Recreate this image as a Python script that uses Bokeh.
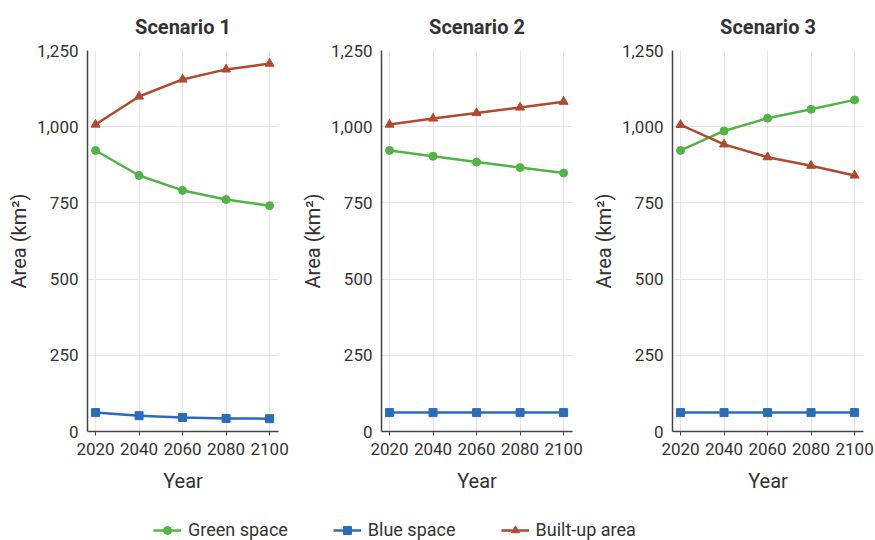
from bokeh.plotting import figure
from bokeh.layouts import row, column
from bokeh.models import FixedTicker, NumeralTickFormatter, Range1d, Legend, LegendItem
from bokeh.embed import file_html
from bokeh.resources import INLINE

years = [2020, 2040, 2060, 2080, 2100]
scenarios = ["Scenario 1", "Scenario 2", "Scenario 3"]
green = [
    [922, 840, 791, 761, 741],
    [922, 903, 884, 866, 848],
    [922, 986, 1028, 1057, 1088],
]
blue = [
    [62, 52, 46, 43, 42],
    [62, 62, 62, 62, 62],
    [62, 62, 62, 62, 62],
]
built = [
    [1007, 1099, 1155, 1188, 1207],
    [1007, 1027, 1045, 1063, 1082],
    [1006, 942, 900, 872, 840],
]
y_ticks = [0, 250, 500, 750, 1000, 1250]
series_names = ["Green space", "Blue space", "Built-up area"]

C_GREEN = "#52b447"
C_BLUE = "#2b6cb8"
C_RED = "#b04a2e"
TXT = "#333333"
FONT = "Roboto"

left_borders = [87, 87, 87]
right_borders = [16, 13, 12]
figs = []
for i in range(3):
    p = figure(frame_width=191, frame_height=381, output_backend="svg", toolbar_location=None,
               x_range=Range1d(2016.3, 2104.1), y_range=Range1d(0, 1250),
               min_border_left=left_borders[i], min_border_right=right_borders[i],
               min_border_top=0, min_border_bottom=70,
               title=scenarios[i])
    p.title.align = "center"
    p.title.text_font = FONT
    p.title.text_font_size = "20px"
    p.title.text_font_style = "bold"
    p.title.text_color = TXT
    p.title.offset = 0
    p.title.standoff = 24
    p.outline_line_color = None
    p.background_fill_color = "white"
    p.border_fill_color = "white"

    p.xaxis.ticker = FixedTicker(ticks=years)
    p.yaxis.ticker = FixedTicker(ticks=y_ticks)
    p.yaxis.formatter = NumeralTickFormatter(format="0,0")
    p.xaxis.axis_label = "Year"
    p.yaxis.axis_label = "Area (km²)"
    for ax in (p.xaxis, p.yaxis):
        ax.axis_label_text_font = FONT
        ax.axis_label_text_font_style = "normal"
        ax.axis_label_text_font_size = "20px"
        ax.axis_label_text_color = TXT
        ax.major_label_text_font = FONT
        ax.major_label_text_font_size = "17px"
        ax.major_label_text_color = TXT
        ax.axis_line_color = "#444444"
        ax.axis_line_width = 1.5
        ax.minor_tick_line_color = None
        ax.major_tick_line_color = "#444444"
    p.yaxis.major_tick_out = 0
    p.yaxis.major_tick_in = 0
    p.yaxis.major_label_standoff = 9
    p.yaxis.axis_label_standoff = 3
    p.xaxis.major_tick_out = 4
    p.xaxis.major_tick_in = 0
    p.xaxis.major_label_standoff = 7
    p.xaxis.axis_label_standoff = 11
    p.grid.grid_line_color = "#e6e6e6"
    p.grid.grid_line_width = 1

    p.line(years, green[i], line_color=C_GREEN, line_width=2.5)
    p.scatter(years, green[i], marker="circle", size=8, fill_color=C_GREEN, line_color=C_GREEN)
    p.line(years, blue[i], line_color=C_BLUE, line_width=2.5)
    p.scatter(years, blue[i], marker="square", size=8, fill_color=C_BLUE, line_color=C_BLUE)
    p.line(years, built[i], line_color=C_RED, line_width=2.5)
    p.scatter(years, built[i], marker="triangle", size=9, fill_color=C_RED, line_color=C_RED)
    figs.append(p)

# Legend figure
lf = figure(width=875, height=39, output_backend="svg", toolbar_location=None,
            x_range=Range1d(0, 1), y_range=Range1d(0, 1),
            min_border=0)
lf.axis.visible = False
lf.grid.visible = False
lf.outline_line_color = None
items = []
for name, col, mk, sz in zip(series_names, [C_GREEN, C_BLUE, C_RED],
                             ["circle", "square", "triangle"], [7, 7, 8]):
    r1 = lf.line([-10, -9], [-10, -10], line_color=col, line_width=2.5)
    r2 = lf.scatter([-10], [-10], marker=mk, size=sz, fill_color=col, line_color=col)
    items.append(LegendItem(label=name, renderers=[r1, r2]))
leg = Legend(items=items, orientation="horizontal", location=(153, 0),
             border_line_color=None, background_fill_alpha=0,
             label_text_font=FONT, label_text_font_size="18px", label_text_color=TXT,
             glyph_width=28, glyph_height=20, spacing=45, label_standoff=7,
             padding=0, margin=0)
lf.add_layout(leg, "center")

layout = column(row(*figs), lf)
open("out.html", "w").write(file_html(layout, INLINE))
